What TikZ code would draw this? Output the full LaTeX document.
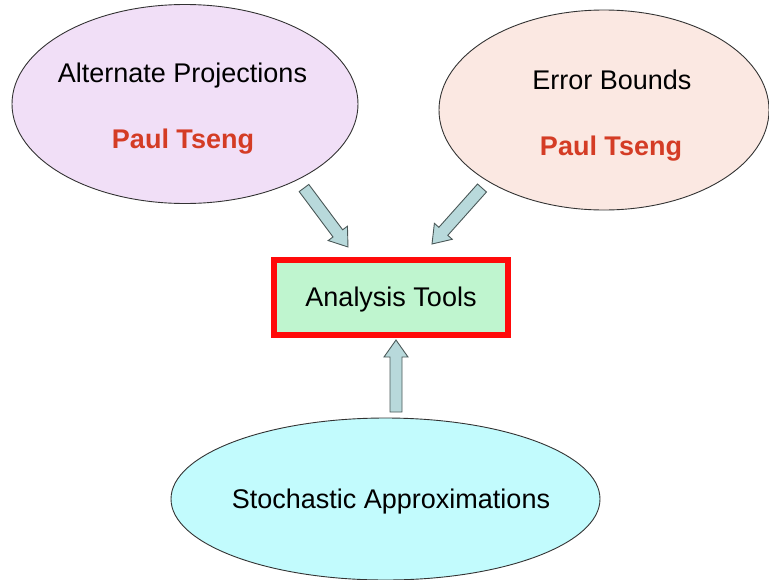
\documentclass[tikz,border=0pt]{standalone}
\usepackage{fontspec}
\setmainfont{Liberation Sans}
\usetikzlibrary{shapes.geometric,calc}

\definecolor{lavender}{HTML}{F1DFF7}
\definecolor{peach}{HTML}{FBE8E2}
\definecolor{mint}{HTML}{BFF5CF}
\definecolor{skyfill}{HTML}{C2FBFD}
\definecolor{arrowfill}{HTML}{B8D9DB}
\definecolor{arrowline}{HTML}{4A5858}
\definecolor{authorred}{HTML}{D43C25}
\definecolor{boxred}{HTML}{FF0A0A}

\tikzset{
  bubble/.style={ellipse, draw=black!80, line width=0.9pt, inner sep=0pt},
  toolbox/.style={rectangle, draw=boxred, line width=6pt, fill=mint,
    minimum width=234.5pt, minimum height=75.5pt, inner sep=0pt},
  topic/.style={font=\fontsize{27}{32}\selectfont, inner sep=0pt, anchor=base},
  author/.style={font=\fontsize{27}{32}\selectfont\bfseries, text=authorred,
    inner sep=0pt, anchor=base},
  blockarrow/.style={draw=arrowline, fill=arrowfill, line width=0.9pt, line join=miter},
}

% hollow block arrow from #1 (tail) to #2 (tip)
\newcommand\blockarrow[2]{%
  \draw[blockarrow] let \p1=(#1), \p2=(#2),
      \n1={atan2(\y2-\y1,\x2-\x1)}, \n2={veclen(\x2-\x1,\y2-\y1)} in
    [shift={(\p1)}, rotate=\n1]
    (0pt,-6pt) -- ({\n2-17pt},-6pt) -- ({\n2-17pt},-12pt) -- ({\n2},0pt)
    -- ({\n2-17pt},12pt) -- ({\n2-17pt},6pt) -- (0pt,6pt) -- cycle;
}

\begin{document}
\begin{tikzpicture}[x=1pt,y=-1pt]
  \useasboundingbox (0,0) rectangle (769,579);

  % three topic bubbles
  \node[bubble, fill=lavender, minimum width=346pt, minimum height=199pt] (alt) at (185,104) {};
  \node[bubble, fill=peach, minimum width=330pt, minimum height=200pt] (err) at (604,110) {};
  \node[bubble, fill=skyfill, minimum width=429pt, minimum height=162pt] (sto) at (385.5,499) {};

  % central box
  \node[toolbox] (tools) at (390.75,297.25) {};

  % texts, placed by their baselines
  \node[topic] (altT) at (182.5,82.5) {Alternate Projections};
  \node[author] (altA) at (183,148) {Paul Tseng};
  \node[topic] (errT) at (612,89) {Error Bounds};
  \node[author] (errA) at (611,155) {Paul Tseng};
  \node[topic] (toolsT) at (391,306) {Analysis Tools};
  \node[topic] (stoT) at (391,508.5) {Stochastic Approximations};

  % arrow ends
  \coordinate (altTail) at (304,188);
  \coordinate (altTip)  at (348,247);
  \coordinate (errTail) at (482,188);
  \coordinate (errTip)  at (432,244);
  \coordinate (stoTail) at (396,412);
  \coordinate (stoTip)  at (396,340);

  \blockarrow{altTail}{altTip}
  \blockarrow{errTail}{errTip}
  \blockarrow{stoTail}{stoTip}
\end{tikzpicture}
\end{document}
